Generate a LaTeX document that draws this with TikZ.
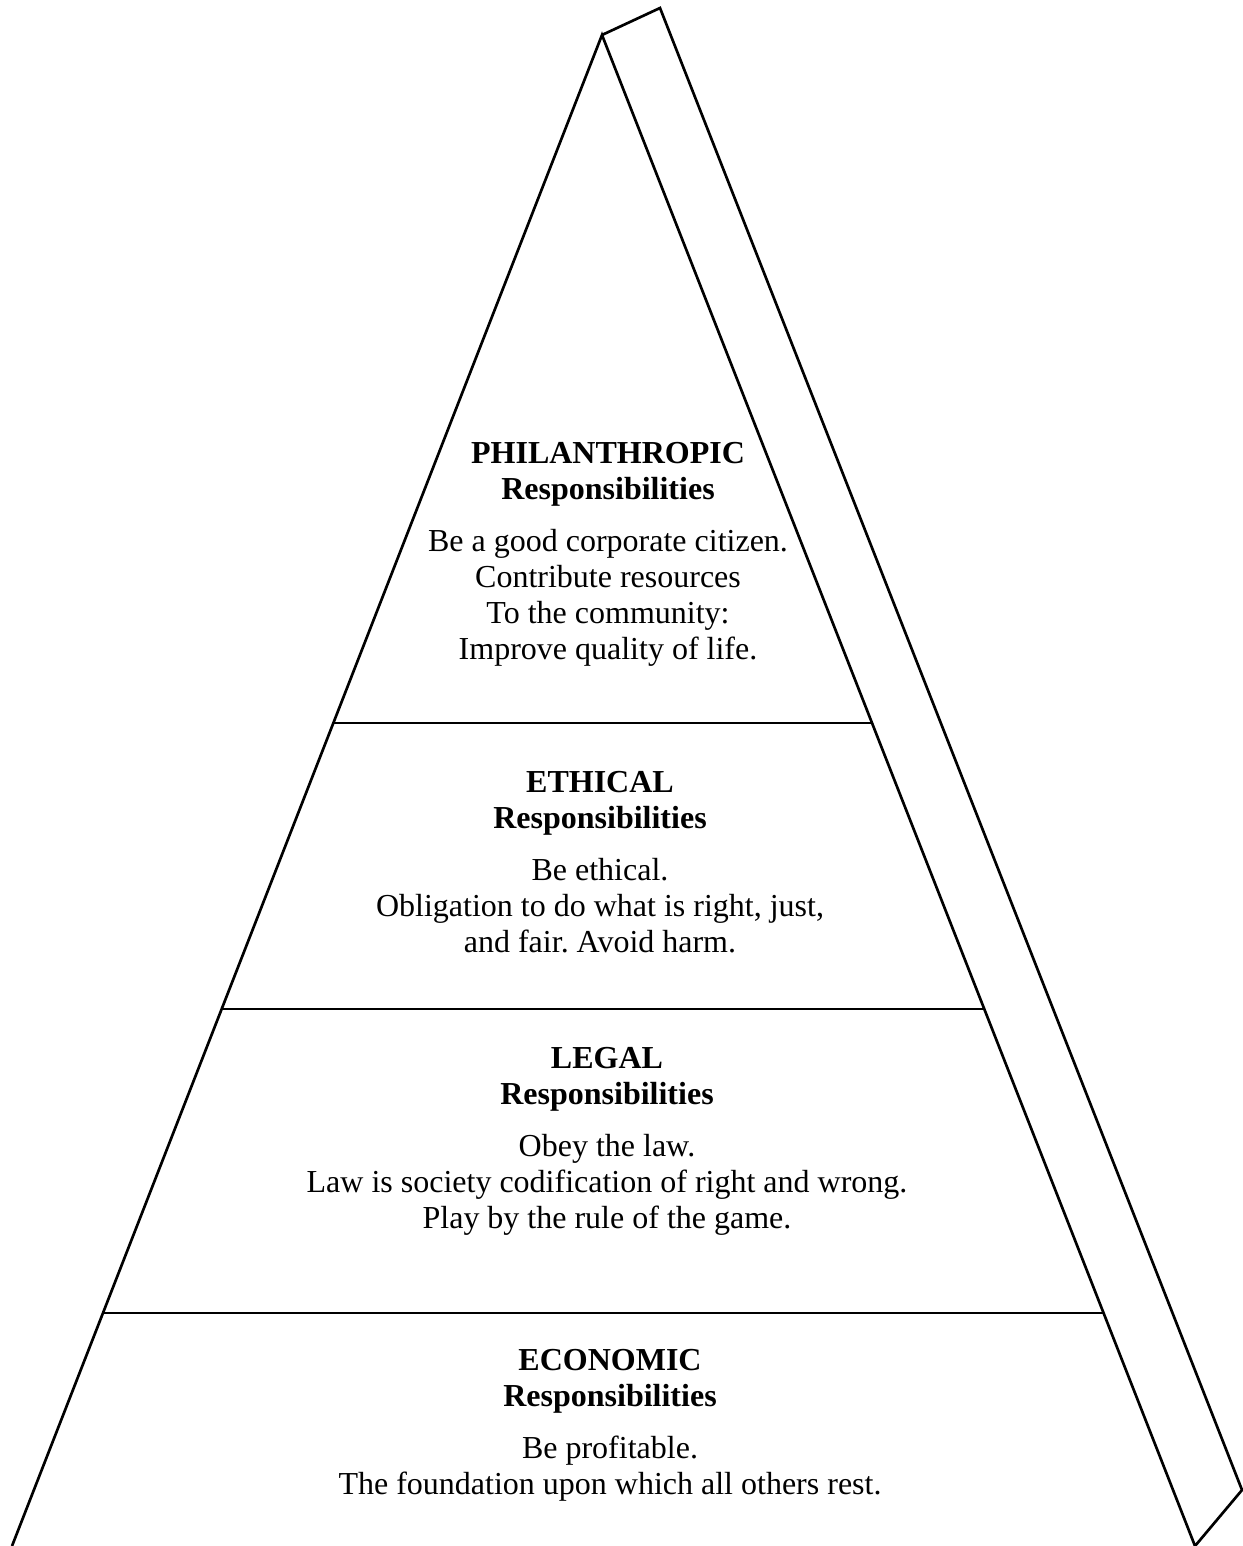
\documentclass[tikz,border=0pt]{standalone}
\usepackage{fontspec}
\setmainfont{Liberation Serif}
\usetikzlibrary{calc}
\frenchspacing

\tikzset{
  edge/.style={line width=1pt, line join=miter},
  tierlabel/.style={align=center, inner sep=0pt, anchor=north,
    font=\fontsize{12}{13.5}\selectfont}
}

\begin{document}
\begin{tikzpicture}[x=0.375pt, y=-0.375pt]
\useasboundingbox (0,0) rectangle (1243,1546);
% Corners of the pyramid and its side face
\coordinate (apex) at (602,35);
\coordinate (lbase) at (12,1546);
\coordinate (rbase) at (1195,1546);
\coordinate (sidetop) at (660,8);
\coordinate (sidebot) at (1242,1490);
% Outline
\draw[edge] (lbase) -- (apex) -- (rbase) -- (sidebot) -- (sidetop) -- (apex);
% Dividing lines between the levels
\foreach \t in {0.4553,0.6446,0.8458} {
  \draw[edge] ($(apex)!\t!(lbase)$) -- ($(apex)!\t!(rbase)$);
}
% Level texts
\node[tierlabel] (philanthropic) at (608,442) {\textbf{PHILANTHROPIC}\\
  \textbf{Responsibilities}\\[6pt]
  Be a good corporate citizen.\\
  Contribute resources\\
  To the community:\\
  Improve quality of life.};
\node[tierlabel] (ethical) at (600,771) {\textbf{ETHICAL}\\
  \textbf{Responsibilities}\\[6pt]
  Be ethical.\\
  Obligation to do what is right, just,\\
  and fair. Avoid harm.};
\node[tierlabel] (legal) at (607,1047) {\textbf{LEGAL}\\
  \textbf{Responsibilities}\\[6pt]
  Obey the law.\\
  Law is society codification of right and wrong.\\
  Play by the rule of the game.};
\node[tierlabel] (economic) at (610,1349) {\textbf{ECONOMIC}\\
  \textbf{Responsibilities}\\[6pt]
  Be profitable.\\
  The foundation upon which all others rest.};
\end{tikzpicture}
\end{document}
